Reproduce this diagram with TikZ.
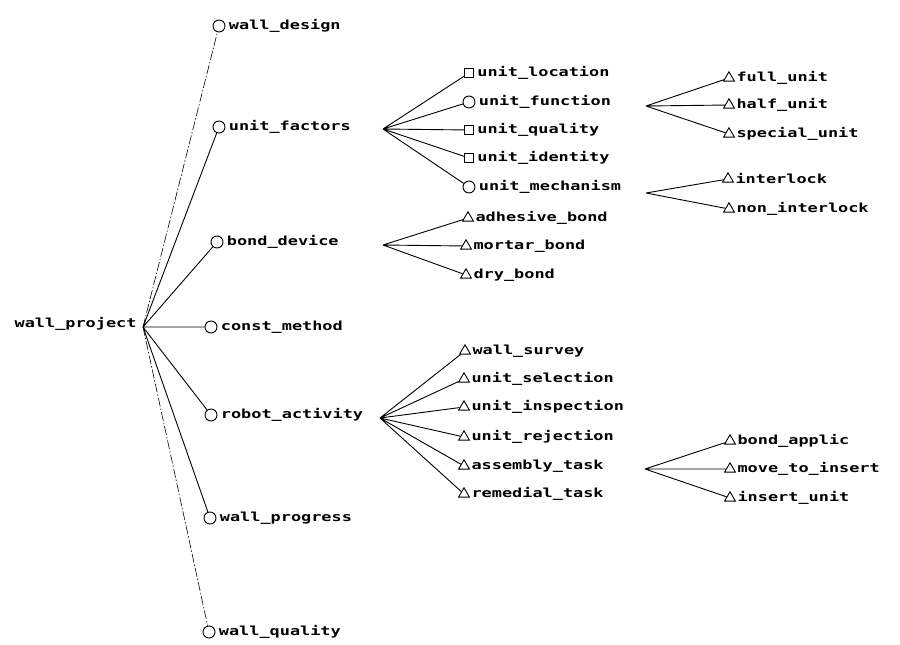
\documentclass[tikz,border=0pt]{standalone}
\usepackage{fontspec}
\newfontfamily\plotfont[FakeStretch=1.35]{DejaVu Sans Mono}
\usetikzlibrary{shapes.geometric}
\tikzset{
  lab/.style={font=\plotfont\bfseries\fontsize{12.5}{14}\selectfont, inner sep=1pt},
  mark/.style={draw, line width=0.9pt, inner sep=0pt, label={[lab, label distance=2pt]right:#1}},
  cmark/.style={mark=#1, circle, minimum size=12pt},
  smark/.style={mark=#1, rectangle, minimum size=9pt},
  tmark/.style={mark=#1, regular polygon, regular polygon sides=3, minimum size=12.5pt},
  dashdot/.style={line width=0.6pt, dash pattern=on 9pt off 2pt on 1.5pt off 2pt}
}
\begin{document}
\begin{tikzpicture}[x=1pt, y=-1pt, line width=0.9pt]
  \useasboundingbox (0,0) rectangle (900,645);

  % Racine
  \node[lab, anchor=east] (wp) at (138,324) {wall\_project};
  \coordinate (wp-fan) at (143,327);

  % Premier niveau
  \node[cmark=wall\_design] (wd) at (219,26) {};
  \node[cmark=unit\_factors] (uf) at (219,127) {};
  \node[cmark=bond\_device] (bd) at (217,242) {};
  \node[cmark=const\_method] (cm) at (211,327) {};
  \node[cmark=robot\_activity] (ra) at (211,415) {};
  \node[cmark=wall\_progress] (wpg) at (210,518) {};
  \node[cmark=wall\_quality] (wq) at (209,632) {};

  \draw[dashdot] (wp-fan) -- (wd);
  \draw (wp-fan) -- (uf) (wp-fan) -- (bd) (wp-fan) -- (cm) (wp-fan) -- (ra) (wp-fan) -- (wpg);
  \draw[dashdot] (wp-fan) -- (wq);

  % unit_factors
  \coordinate (uf-fan) at (383,129);
  \node[smark=unit\_location] (uloc) at (469,73) {};
  \node[cmark=unit\_function] (ufun) at (469,102) {};
  \node[smark=unit\_quality] (uqua) at (469,130) {};
  \node[smark=unit\_identity] (uide) at (469,158) {};
  \node[cmark=unit\_mechanism] (umec) at (469,187) {};
  \draw (uf-fan) -- (uloc) (uf-fan) -- (ufun) (uf-fan) -- (uqua) (uf-fan) -- (uide) (uf-fan) -- (umec);

  % unit_function
  \coordinate (ufun-fan) at (646,106);
  \node[tmark=full\_unit] (full) at (729,78) {};
  \node[tmark=half\_unit] (half) at (729,105) {};
  \node[tmark=special\_unit] (spec) at (729,134) {};
  \draw (ufun-fan) -- (full) (ufun-fan) -- (half) (ufun-fan) -- (spec);

  % unit_mechanism
  \coordinate (umec-fan) at (646,193);
  \node[tmark=interlock] (ilk) at (728,179) {};
  \node[tmark=non\_interlock] (nilk) at (729,209) {};
  \draw (umec-fan) -- (ilk) (umec-fan) -- (nilk);

  % bond_device
  \coordinate (bd-fan) at (383,245);
  \node[tmark=adhesive\_bond] (adh) at (468,218) {};
  \node[tmark=mortar\_bond] (mor) at (466,246) {};
  \node[tmark=dry\_bond] (dry) at (466,275) {};
  \draw (bd-fan) -- (adh) (bd-fan) -- (mor) (bd-fan) -- (dry);

  % robot_activity
  \coordinate (ra-fan) at (380,418);
  \node[tmark=wall\_survey] (ws) at (465,351) {};
  \node[tmark=unit\_selection] (usel) at (464,379) {};
  \node[tmark=unit\_inspection] (uins) at (464,407) {};
  \node[tmark=unit\_rejection] (urej) at (464,437) {};
  \node[tmark=assembly\_task] (asm) at (464,466) {};
  \node[tmark=remedial\_task] (rem) at (464,494) {};
  \draw (ra-fan) -- (ws) (ra-fan) -- (usel) (ra-fan) -- (uins) (ra-fan) -- (urej) (ra-fan) -- (asm) (ra-fan) -- (rem);

  % assembly_task
  \coordinate (asm-fan) at (645,469);
  \node[tmark=bond\_applic] (bap) at (730,441) {};
  \node[tmark=move\_to\_insert] (mti) at (730,469) {};
  \node[tmark=insert\_unit] (ins) at (730,498) {};
  \draw (asm-fan) -- (bap) (asm-fan) -- (mti) (asm-fan) -- (ins);
\end{tikzpicture}
\end{document}
